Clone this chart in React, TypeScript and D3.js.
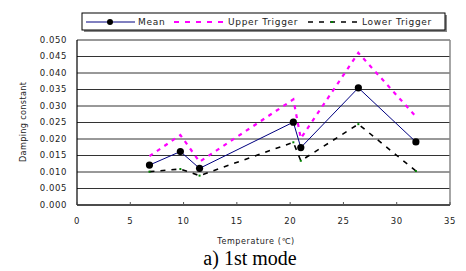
import React from 'react';
import * as d3 from 'd3';

const temps = [6.8, 9.7, 11.5, 20.3, 21.0, 26.4, 31.8];
const meanVals = [0.0121, 0.0162, 0.0111, 0.0251, 0.0174, 0.0355, 0.0191];
const upperVals = [0.0148, 0.0212, 0.0131, 0.032, 0.0202, 0.0461, 0.0268];
const lowerVals = [0.0101, 0.0109, 0.0089, 0.019, 0.0134, 0.0245, 0.0103];
const xTicks = [0, 5, 10, 15, 20, 25, 30, 35];
const yTicks = [0, 0.005, 0.01, 0.015, 0.02, 0.025, 0.03, 0.035, 0.04, 0.045, 0.05];

const W = 466;
const H = 271;
const left = 77;
const right = 450;
const top = 40;
const bottom = 205;

const App: React.FC = () => {
  const x = d3.scaleLinear().domain([0, 35]).range([left, right]);
  const y = d3.scaleLinear().domain([0, 0.05]).range([bottom, top]);

  const line = (vals: number[]) =>
    d3
      .line<number>()
      .x((_, i) => x(temps[i]))
      .y((d) => y(d))(vals) || '';

  const tickFont = {
    fontFamily: 'DejaVu Sans, sans-serif',
    fontSize: 8.5,
    letterSpacing: 0.6,
    fill: '#222',
  };
  const legFont = {
    fontFamily: 'DejaVu Sans, sans-serif',
    fontSize: 9,
    letterSpacing: 0.7,
    fill: '#222',
  };

  return (
    <svg width={W} height={H} style={{ position: 'absolute', left: 0, top: 0 }}>
      <rect width={W} height={H} fill="#fff" />

      {/* grid */}
      {yTicks.map((t) => (
        <line key={t} x1={left} x2={right} y1={y(t)} y2={y(t)} stroke="#333" strokeWidth={1} />
      ))}
      <line x1={right} x2={right} y1={top} y2={bottom} stroke="#888" strokeWidth={1.5} />
      <line x1={left} x2={left} y1={top} y2={bottom} stroke="#000" strokeWidth={1.2} />
      <line x1={left} x2={right} y1={bottom} y2={bottom} stroke="#000" strokeWidth={1.2} />

      {/* y labels */}
      {yTicks.map((t) => (
        <text key={t} x={left - 10} y={y(t)} dy="0.35em" textAnchor="end" {...tickFont}>
          {d3.format('.3f')(t)}
        </text>
      ))}
      {/* x ticks */}
      {xTicks.map((t) => (
        <g key={t}>
          <line x1={x(t)} x2={x(t)} y1={bottom} y2={bottom - 3} stroke="#555" />
          <text x={x(t)} y={221} dy="0.35em" textAnchor="middle" {...tickFont}>
            {t}
          </text>
        </g>
      ))}

      <text x={256} y={241} dy="0.35em" textAnchor="middle" {...tickFont} fontSize={8}>
        Temperature (℃)
      </text>
      <text
        transform="translate(26,122) rotate(-90)"
        textAnchor="middle"
        fontFamily="DejaVu Sans Condensed, DejaVu Sans, sans-serif"
        fontSize={9}
        textLength={80}
        fill="#222"
      >
        Damping constant
      </text>

      {/* series */}
      <path d={line(upperVals)} fill="none" stroke="#ff00ff" strokeWidth={2.2} strokeDasharray="4,5" />
      <path d={line(lowerVals)} fill="none" stroke="#000" strokeWidth={1.6} strokeDasharray="5,6" />
      {lowerVals.map((v, i) => (
        <rect key={i} x={x(temps[i]) - 1} y={y(v) - 1} width={2} height={2} fill="#008000" />
      ))}
      <path d={line(meanVals)} fill="none" stroke="#000080" strokeWidth={1} />
      {meanVals.map((v, i) => (
        <circle key={i} cx={x(temps[i])} cy={y(v)} r={3.6} fill="#000" />
      ))}

      {/* legend */}
      <rect x={84} y={15} width={363} height={17} fill="#888" />
      <rect x={82} y={13} width={363} height={17} fill="#fff" stroke="#000" strokeWidth={1} />
      <line x1={86} x2={135} y1={22} y2={22} stroke="#000080" strokeWidth={1} />
      <circle cx={110} cy={22} r={3} fill="#000" />
      <text x={138} y={22} dy="0.35em" {...legFont}>
        Mean
      </text>
      <line x1={174} x2={223} y1={22} y2={22} stroke="#ff00ff" strokeWidth={2} strokeDasharray="5,6" />
      <text x={228} y={22} dy="0.35em" {...legFont}>
        Upper Trigger
      </text>
      <line x1={308} x2={357} y1={22} y2={22} stroke="#000" strokeWidth={1.6} strokeDasharray="5,6" />
      <rect x={331} y={21} width={2} height={2} fill="#008000" />
      <text x={362} y={22} dy="0.35em" {...legFont}>
        Lower Trigger
      </text>

      <text
        x={250}
        y={265}
        textAnchor="middle"
        fontFamily="Liberation Serif, Times New Roman, serif"
        fontSize={20}
        fill="#000"
      >
        a) 1st mode
      </text>
    </svg>
  );
};

export default App;
